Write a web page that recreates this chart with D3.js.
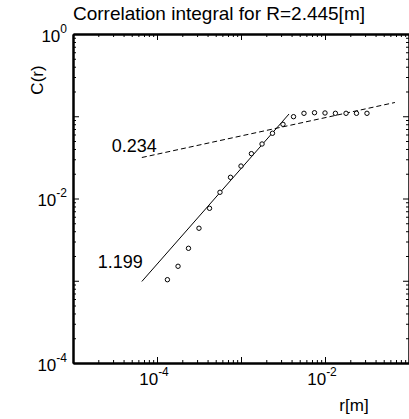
<!DOCTYPE html>
<html>
<head>
<meta charset="utf-8">
<script src="https://cdn.jsdelivr.net/npm/d3@7"></script>
<style>
  body { margin: 0; background: #fff; }
  svg { display: block; font-family: "Liberation Sans", Arial, sans-serif; }
</style>
</head>
<body>
<div id="chart"></div>
<script>
// correlation integral C(r) vs r, log-log with two fitted slopes

var titleText = "Correlation integral for R=2.445[m]";

// measured points
var rVals = [1.33e-4, 1.78e-4, 2.37e-4, 3.16e-4, 4.22e-4, 5.62e-4, 7.50e-4, 1.00e-3,
             1.33e-3, 1.78e-3, 2.37e-3, 3.16e-3, 4.22e-3, 5.62e-3, 7.50e-3, 1.00e-2,
             1.33e-2, 1.78e-2, 2.37e-2, 3.16e-2];
var cVals = [1.03e-3, 1.50e-3, 2.48e-3, 4.35e-3, 7.60e-3, 1.19e-2, 1.81e-2, 2.48e-2,
             3.51e-2, 4.60e-2, 6.21e-2, 7.98e-2, 9.88e-2, 0.1086, 0.1104, 0.1096,
             0.1086, 0.1086, 0.1086, 0.1086];

// fitted lines (end points)
var steepR = [6.6e-5, 3.73e-3];
var steepC = [9.8e-4, 0.1065];
var flatR = [6.6e-5, 0.068];
var flatC = [0.0315, 0.147];
var slopeLabels = ["1.199", "0.234"];

// axis labels
var xLabelExps = [-4, -2];
var yLabelExps = [0, -2, -4];

var svgWidth = 409;
var svgHeight = 419;
var margin = { top: 34, right: 0, bottom: 56, left: 73 };
var width = svgWidth - margin.left - margin.right;
var height = svgHeight - margin.top - margin.bottom;

var svg = d3.select("#chart")
  .append("svg")
  .attr("width", svgWidth)
  .attr("height", svgHeight);

var g = svg.append("g")
  .attr("transform", `translate(${margin.left}, ${margin.top})`);

var x = d3.scaleLog().domain([1e-5, 1e-1]).range([0, width]);
var y = d3.scaleLog().domain([1e-4, 1]).range([height, 0]);

// tick values: minor 2..9 per decade, major at each decade
var xMajor = x.ticks().filter(d => Math.abs(Math.log10(d) - Math.round(Math.log10(d))) < 1e-9);
var xMinor = x.ticks().filter(d => xMajor.indexOf(d) < 0);
var yMajor = y.ticks().filter(d => Math.abs(Math.log10(d) - Math.round(Math.log10(d))) < 1e-9);
var yMinor = y.ticks().filter(d => yMajor.indexOf(d) < 0);

function addAxis(axisFn, scale, vals, size, tr) {
  var a = g.append("g")
    .attr("transform", tr)
    .call(axisFn(scale).tickValues(vals).tickSizeInner(size).tickSizeOuter(0).tickFormat(""));
  a.select(".domain").attr("stroke-width", 2);
  a.selectAll(".tick line").attr("stroke-width", 1);
  return a;
}

// bottom / top
addAxis(d3.axisBottom, x, xMinor, -3, `translate(0, ${height})`);
addAxis(d3.axisBottom, x, xMajor, -6, `translate(0, ${height})`);
addAxis(d3.axisTop, x, xMinor, -3, "translate(0, 0)");
addAxis(d3.axisTop, x, xMajor, -6, "translate(0, 0)");
// left / right
addAxis(d3.axisLeft, y, yMinor, -3, "translate(0, 0)");
addAxis(d3.axisLeft, y, yMajor, -6, "translate(0, 0)");
addAxis(d3.axisRight, y, yMinor, -3, `translate(${width}, 0)`);
addAxis(d3.axisRight, y, yMajor, -6, `translate(${width}, 0)`);

// tick labels with superscripts
xLabelExps.forEach(function(e) {
  var t = g.append("text")
    .attr("x", x(Math.pow(10, e)) - 3)
    .attr("y", height + 22)
    .attr("text-anchor", "middle")
    .attr("font-size", 17);
  t.append("tspan").text("10");
  t.append("tspan").attr("dy", -9).attr("font-size", 12).text(String(e));
});

yLabelExps.forEach(function(e) {
  var t = g.append("text")
    .attr("x", -6)
    .attr("y", y(Math.pow(10, e)) + 7.5)
    .attr("text-anchor", "end")
    .attr("font-size", 17);
  t.append("tspan").text("10");
  t.append("tspan").attr("dy", -9).attr("font-size", 12).text(String(e));
});

// axis titles
svg.append("text")
  .attr("x", 73)
  .attr("y", 20)
  .attr("font-size", 19)
  .text(titleText);

svg.append("text")
  .attr("x", 354)
  .attr("y", 411)
  .attr("text-anchor", "middle")
  .attr("font-size", 17)
  .text("r[m]");

svg.append("text")
  .attr("transform", "translate(43, 80) rotate(-90)")
  .attr("text-anchor", "middle")
  .attr("font-size", 17)
  .text("C(r)");

// fitted lines
var line = d3.line().x(d => x(d[0])).y(d => y(d[1]));

g.append("path")
  .datum(d3.zip(steepR, steepC))
  .attr("d", line)
  .attr("fill", "none")
  .attr("stroke", "#000")
  .attr("stroke-width", 1);

g.append("path")
  .datum(d3.zip(flatR, flatC))
  .attr("d", line)
  .attr("fill", "none")
  .attr("stroke", "#000")
  .attr("stroke-width", 1)
  .attr("stroke-dasharray", "5,3");

g.append("text")
  .attr("x", x(steepR[0]) + 1)
  .attr("y", y(steepC[0]) - 13)
  .attr("text-anchor", "end")
  .attr("font-size", 18)
  .text(slopeLabels[0]);

g.append("text")
  .attr("x", x(flatR[0]) + 15)
  .attr("y", y(flatC[0]) - 6)
  .attr("text-anchor", "end")
  .attr("font-size", 18)
  .text(slopeLabels[1]);

// points
g.selectAll("circle")
  .data(d3.zip(rVals, cVals))
  .enter()
  .append("circle")
  .attr("cx", d => x(d[0]))
  .attr("cy", d => y(d[1]))
  .attr("r", 2.2)
  .attr("fill", "#fff")
  .attr("stroke", "#000")
  .attr("stroke-width", 1);
</script>
</body>
</html>
